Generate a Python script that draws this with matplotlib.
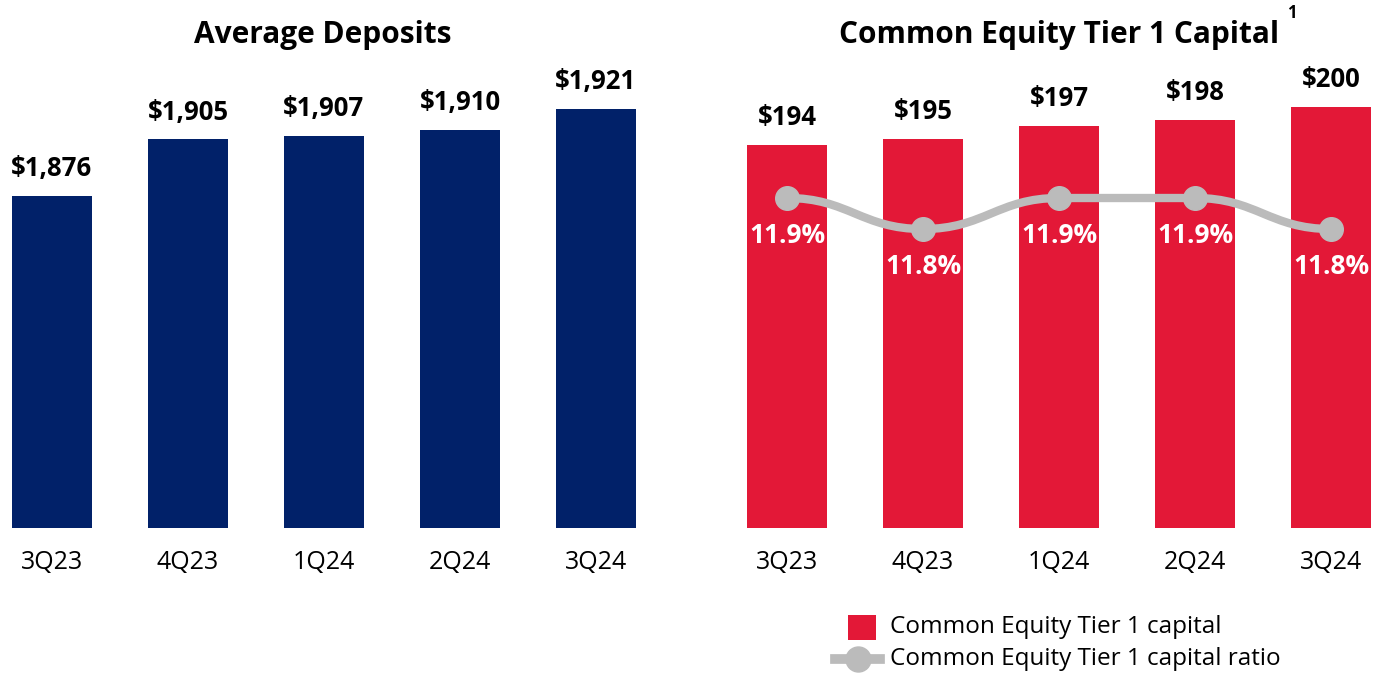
import matplotlib
matplotlib.use('Agg')
import matplotlib.pyplot as plt
from matplotlib.path import Path
from matplotlib.patches import PathPatch, Rectangle
from matplotlib.lines import Line2D

plt.rcParams['font.family'] = ['Open Sans', 'DejaVu Sans']

quarters = ['3Q23', '4Q23', '1Q24', '2Q24', '3Q24']
deposits = [1876, 1905, 1907, 1910, 1921]
cet1_capital = [194, 195, 197, 198, 200]
cet1_ratio = [11.9, 11.8, 11.9, 11.9, 11.8]
legend_labels = ['Common Equity Tier 1 capital', 'Common Equity Tier 1 capital ratio']

navy = '#012169'
red = '#E31837'
gray = '#BBBBBB'

W, H = 1384, 673
fig = plt.figure(figsize=(W / 100, H / 100), dpi=100)


def px_axes(left, right, top, bottom):
    return fig.add_axes([left / W, 1 - bottom / H, (right - left) / W, (bottom - top) / H])


def fx(px):
    return px / W


def fy(py):
    return 1 - py / H


x = list(range(len(quarters)))

# left panel: average deposits
ax1 = px_axes(0, 664, 60, 528)
ax1.bar(x, deposits, width=0.59, color=navy)
ax1.set_xlim(-52 / 136, 4.5)
ax1.set_ylim(1704, 1704 + 468 / 1.933)
for i, v in zip(x, deposits):
    ax1.annotate(f'${v:,}', (i, v), xytext=(0, 19.5), textcoords='offset points',
                 ha='center', va='center', fontsize=18.5, fontweight='bold')

# right panel: CET1 capital
ax2 = px_axes(700, 1384, 60, 528)
ax2.bar(x, cet1_capital, width=0.59, color=red)
ax2.set_xlim(-87 / 136, 4 + 53 / 136)
ax2.set_ylim(133.5, 133.5 + 468 / 6.33)
for i, v in zip(x, cet1_capital):
    ax2.annotate(f'${v}', (i, v), xytext=(0, 19.5), textcoords='offset points',
                 ha='center', va='center', fontsize=18.5, fontweight='bold')

ax3 = ax2.twinx()
ax3.set_ylim(10.8355, 10.8355 + 468 / 310)

# smooth curve through ratio points (flat tangents at each point)
verts = [(x[0], cet1_ratio[0])]
codes = [Path.MOVETO]
for i in range(len(x) - 1):
    dx = (x[i + 1] - x[i]) * 0.45
    verts += [(x[i] + dx, cet1_ratio[i]), (x[i + 1] - dx, cet1_ratio[i + 1]),
              (x[i + 1], cet1_ratio[i + 1])]
    codes += [Path.CURVE4] * 3
ax3.add_patch(PathPatch(Path(verts, codes), facecolor='none', edgecolor=gray,
                        lw=6, capstyle='round', zorder=3))
ax3.plot(x, cet1_ratio, 'o', color=gray, markersize=17, zorder=4)
for i, v in zip(x, cet1_ratio):
    ax3.annotate(f'{v:.1f}%', (i, v), xytext=(0, -27), textcoords='offset points',
                 ha='center', va='center', fontsize=19, fontweight='bold', color='white',
                 zorder=5)

for ax in (ax1, ax2, ax3):
    for s in ax.spines.values():
        s.set_visible(False)
    ax.set_yticks([])
    ax.tick_params(axis='x', length=0)
ax3.set_xticks([])
for ax in (ax1, ax2):
    ax.set_xticks(x)
    ax.set_xticklabels(quarters, fontsize=18)
    ax.tick_params(axis='x', pad=16)

# titles
fig.text(fx(323), fy(35), 'Average Deposits', ha='center', va='center',
         fontsize=21.5, fontweight='bold')
fig.text(fx(1059), fy(35), 'Common Equity Tier 1 Capital', ha='center', va='center',
         fontsize=21.5, fontweight='bold')
fig.text(fx(1292), fy(13), '1', ha='center', va='center', fontsize=12, fontweight='bold')

# legend
fig.patches.append(Rectangle((fx(848), fy(640)), fx(28), 25 / H, facecolor=red,
                             edgecolor='none', transform=fig.transFigure, figure=fig))
fig.lines.append(Line2D([fx(835), fx(880)], [fy(659), fy(659)], color=gray, lw=7,
                        transform=fig.transFigure, figure=fig))
fig.lines.append(Line2D([fx(858)], [fy(659)], color=gray, marker='o', markersize=18,
                        transform=fig.transFigure, figure=fig))
fig.text(fx(890), fy(627), legend_labels[0], ha='left', va='center', fontsize=17.5)
fig.text(fx(890), fy(659), legend_labels[1], ha='left', va='center', fontsize=17.5)

fig.savefig('out.png', dpi=100)
